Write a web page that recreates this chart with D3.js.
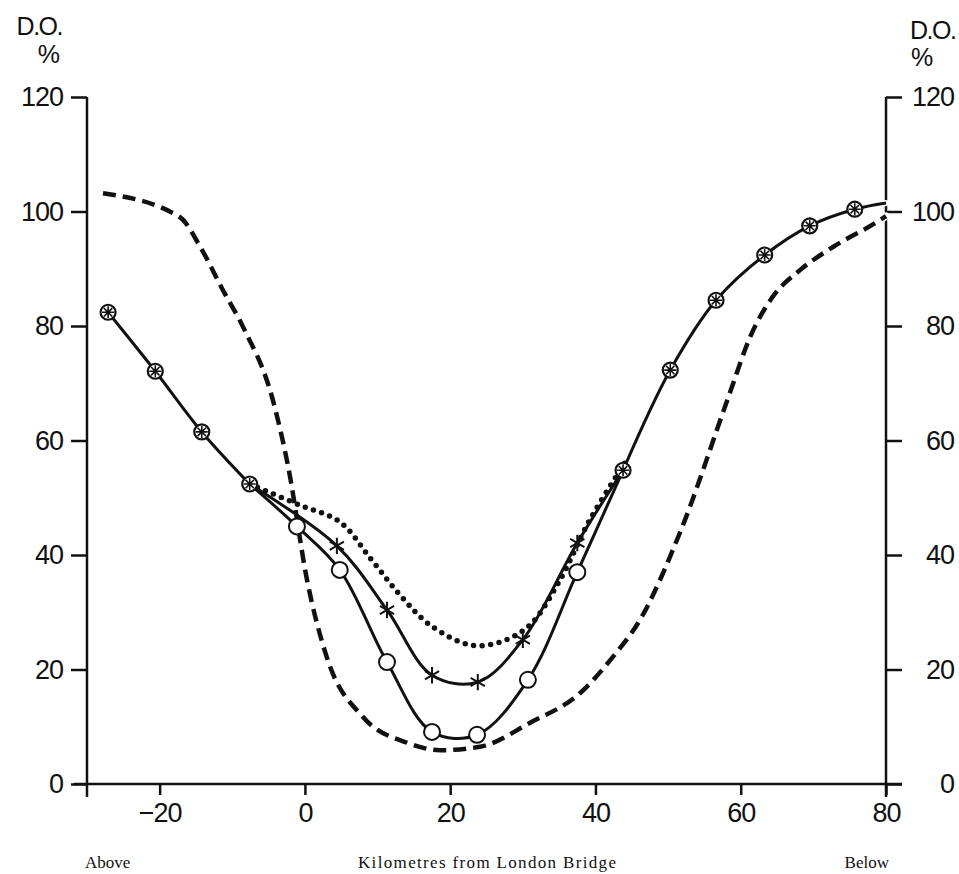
<!DOCTYPE html>
<meta charset="utf-8">
<script src="https://d3js.org/d3.v7.min.js"></script>
<style>
  body { margin: 0; background: #fff; }
  text { font-family: "Liberation Sans", Arial, sans-serif; fill: #111; }
  .serif { font-family: "Liberation Serif", "Times New Roman", serif; }
</style>
<body>
<div id="chart"></div>
</body>
<script>
    // km from London Bridge, dissolved oxygen %
    const xTicks = [-20, 0, 20, 40, 60, 80];
    const yTicks = [0, 20, 40, 60, 80, 100, 120];

    // shared upper-river and lower-river stretch (crossed circles)
    const sharedLeft = [[-27.1, 82.4], [-20.6, 72.1], [-14.2, 61.5], [-7.6, 52.4]];
    const sharedRight = [[43.8, 54.8], [50.3, 72.3], [56.6, 84.5], [63.3, 92.4], [69.5, 97.5], [75.7, 100.4]];
    const sharedRightEnd = [80, 101.5];

    const circleSeries = [[-1.1, 45.0], [4.8, 37.4], [11.3, 21.3], [17.5, 9.1], [23.7, 8.6], [30.7, 18.2], [37.5, 37.0]];
    const starSeries = [[4.4, 41.6], [11.3, 30.4], [17.5, 19.0], [23.8, 17.8], [30.0, 25.2], [37.5, 42.1]];
    const dottedSeries = [[-0.7, 48.7], [4.8, 45.8], [9.2, 39.1], [13.1, 33.0], [17.2, 27.8], [22.7, 24.3],
        [26.9, 24.8], [31.0, 27.8], [35.1, 35.6], [39.2, 46.1], [44.1, 56.2]];
    const dashedSeries = [[-27.8, 103.2], [-17.2, 99.0], [-14.4, 93.8], [-11.3, 86.3], [-8.5, 79.8], [-4.4, 67.0],
        [-2.3, 55.4], [0.3, 35.6], [3.0, 22.2], [8.0, 11.7], [14.1, 7.2], [18.6, 5.9], [24.1, 6.5], [31.0, 10.7],
        [37.9, 15.9], [42.4, 22.2], [46.1, 28.6], [51.6, 43.8], [58.5, 68.3], [61.3, 78.1],
        [64.4, 85.1], [68.2, 89.8], [72.7, 93.8], [78.8, 98.2], [80, 99.2]];

    const width = 959, height = 874;
    const svg = d3.select("#chart").append("svg")
        .attr("width", width)
        .attr("height", height);

    const x = d3.scaleLinear().domain([-30, 80]).range([87, 886]);
    const y = d3.scaleLinear().domain([0, 120]).range([784, 97]);

    const smoothLine = d3.line()
        .x(d => x(d[0]))
        .y(d => y(d[1]))
        .curve(d3.curveCatmullRom.alpha(0.5));
    const monoLine = d3.line()
        .x(d => x(d[0]))
        .y(d => y(d[1]))
        .curve(d3.curveMonotoneX);

    // axes
    const axisColor = "#111";
    svg.append("line").attr("x1", x(-30)).attr("x2", x(-30)).attr("y1", y(120)).attr("y2", 797)
        .attr("stroke", axisColor).attr("stroke-width", 2.5);
    svg.append("line").attr("x1", x(80)).attr("x2", x(80)).attr("y1", y(120)).attr("y2", 797)
        .attr("stroke", axisColor).attr("stroke-width", 2.5);

    const bottom = svg.append("g")
        .attr("transform", "translate(0," + y(0) + ")")
        .call(d3.axisBottom(x).tickValues(xTicks).tickSize(11).tickPadding(8).tickFormat(d => d < 0 ? "\u2212" + Math.abs(d) : d));
    bottom.select(".domain").remove();
    svg.append("line").attr("x1", 74).attr("x2", 902).attr("y1", y(0)).attr("y2", y(0))
        .attr("stroke", axisColor).attr("stroke-width", 2.5);

    const left = svg.append("g")
        .attr("transform", "translate(" + x(-30) + ",0)")
        .call(d3.axisLeft(y).tickValues(yTicks).tickSize(16).tickPadding(8));
    left.select(".domain").remove();

    const right = svg.append("g")
        .attr("transform", "translate(" + x(80) + ",0)")
        .call(d3.axisRight(y).tickValues(yTicks).tickSize(16).tickPadding(8));
    right.select(".domain").remove();
    right.selectAll(".tick text").attr("text-anchor", "end").attr("x", 68);

    svg.selectAll(".tick line").attr("stroke", axisColor).attr("stroke-width", 2.5);
    svg.selectAll(".tick text")
        .style("font-family", "'Liberation Sans', Arial, sans-serif")
        .style("font-size", "27px")
        .style("letter-spacing", "-1px")
        .attr("fill", "#111");
    bottom.selectAll(".tick text").attr("dy", "0.72em");

    // axis titles
    svg.append("text").attr("x", 62).attr("y", 35).attr("text-anchor", "end")
        .style("font-size", "25px").style("letter-spacing", "-1.5px").text("D.O.");
    svg.append("text").attr("x", 60).attr("y", 63).attr("text-anchor", "end")
        .style("font-size", "25px").text("%");
    svg.append("text").attr("x", 910).attr("y", 39)
        .style("font-size", "25px").style("letter-spacing", "-1.5px").text("D.O.");
    svg.append("text").attr("x", 911).attr("y", 66)
        .style("font-size", "25px").text("%");

    svg.append("text").attr("class", "serif").attr("x", 85).attr("y", 868)
        .style("font-size", "17px").text("Above");
    svg.append("text").attr("class", "serif").attr("x", 487).attr("y", 868).attr("text-anchor", "middle")
        .style("font-size", "17px").attr("textLength", 258).text("Kilometres from London Bridge");
    svg.append("text").attr("class", "serif").attr("x", 889).attr("y", 868).attr("text-anchor", "end")
        .style("font-size", "17px").text("Below");

    // series: white halos first, then the black strokes
    const joinL = sharedLeft[sharedLeft.length - 1];
    const joinR = sharedRight[0];
    const paths = [
        {data: dashedSeries, gen: monoLine, width: 4.5, dash: "13,7"},
        {data: sharedLeft, gen: smoothLine, width: 3},
        {data: sharedRight.concat([sharedRightEnd]), gen: smoothLine, width: 3},
        {data: [joinL].concat(starSeries, [joinR]), gen: smoothLine, width: 3},
        {data: [joinL].concat(circleSeries, [joinR]), gen: smoothLine, width: 3},
        {data: [joinL].concat(dottedSeries), gen: smoothLine, width: 5.5, dash: "0,8.6", cap: "round"}
    ];
    paths.forEach(p => {
        svg.append("path").datum(p.data)
            .attr("d", p.gen)
            .attr("fill", "none")
            .attr("stroke", "#fff")
            .attr("stroke-width", p.width + 3)
            .attr("stroke-linecap", "round")
            .attr("stroke-dasharray", p.dash || null);
    });
    paths.forEach(p => {
        svg.append("path").datum(p.data)
            .attr("d", p.gen)
            .attr("fill", "none")
            .attr("stroke", "#111")
            .attr("stroke-width", p.width)
            .attr("stroke-linecap", p.cap || "butt")
            .attr("stroke-dasharray", p.dash || null);
    });

    // markers
    svg.selectAll(".star").data(starSeries).enter().append("path")
        .attr("class", "star")
        .attr("transform", d => "translate(" + x(d[0]) + "," + y(d[1]) + ")")
        .attr("d", d3.symbol(d3.symbolAsterisk, 190))
        .attr("fill", "none")
        .attr("stroke", "#111")
        .attr("stroke-width", 2);

    svg.selectAll(".ring").data(circleSeries).enter().append("circle")
        .attr("class", "ring")
        .attr("cx", d => x(d[0]))
        .attr("cy", d => y(d[1]))
        .attr("r", 8)
        .attr("fill", "#fff")
        .attr("stroke", "#111")
        .attr("stroke-width", 2);

    const crossed = svg.selectAll(".crossed").data(sharedLeft.concat(sharedRight)).enter().append("g")
        .attr("class", "crossed")
        .attr("transform", d => "translate(" + x(d[0]) + "," + y(d[1]) + ")");
    crossed.append("circle").attr("r", 7.5).attr("fill", "#fff").attr("stroke", "#111").attr("stroke-width", 2.2);
    crossed.append("path")
        .attr("d", "M-6,0H6M0,-6V6M-4.2,-4.2L4.2,4.2M-4.2,4.2L4.2,-4.2")
        .attr("stroke", "#111").attr("stroke-width", 1.6);
</script>
</html>
